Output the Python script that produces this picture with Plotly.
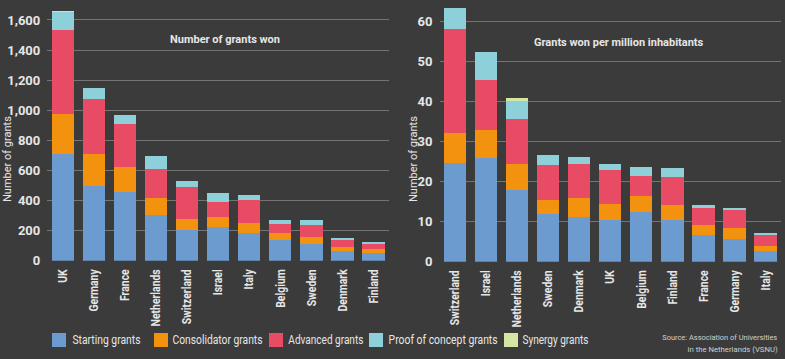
import json
import plotly.graph_objects as go

# ---------------- data ----------------
series_names = ["Starting grants", "Consolidator grants", "Advanced grants",
                "Proof of concept grants", "Synergy grants"]
series_colors = ["#6c9bd0", "#f3920f", "#e84b64", "#8dd0da", "#d5e5a3"]

countries_total = ["UK", "Germany", "France", "Netherlands", "Switzerland", "Israel",
                   "Italy", "Belgium", "Sweden", "Denmark", "Finland"]
total_starting = [707, 499, 459, 304, 204, 222, 182, 137, 113, 62, 49]
total_consolidator = [268, 210, 166, 115, 73, 66, 68, 49, 42, 31, 31]
total_advanced = [558, 366, 286, 190, 215, 104, 151, 60, 84, 49, 33]
total_poc = [120, 71, 57, 85, 38, 60, 33, 27, 29, 3, 13]
total_synergy = [4, 0, 0, 0, 0, 0, 0, 0, 0, 0, 0]

countries_capita = ["Switzerland", "Israel", "Netherlands", "Sweden", "Denmark", "UK",
                    "Belgium", "Finland", "France", "Germany", "Italy"]
capita_starting = [24.5, 25.9, 17.9, 11.8, 11.2, 10.4, 12.3, 10.4, 6.6, 5.7, 2.7]
capita_consolidator = [7.7, 6.9, 6.5, 3.6, 4.8, 4.1, 4.2, 3.8, 2.5, 2.7, 1.3]
capita_advanced = [25.9, 12.5, 11.1, 8.8, 8.4, 8.4, 4.9, 7.0, 4.4, 4.5, 2.6]
capita_poc = [5.1, 7.0, 4.8, 2.3, 1.6, 1.5, 2.3, 2.1, 0.6, 0.5, 0.5]
capita_synergy = [0, 0, 0.4, 0, 0, 0, 0, 0, 0, 0, 0]

left_ticks = [0, 200, 400, 600, 800, 1000, 1200, 1400, 1600]
right_ticks = [0, 10, 20, 30, 40, 50, 60]

title_left = "Number of grants won"
title_right = "Grants won per million inhabitants"
y_title = "Number of grants"
source_lines = ["Source: Association of Universities", "in the Netherlands (VSNU)"]

# ---------------- style ----------------
BG = "#3b3b3b"
GRID = "#747474"
TXT = "#e6e6e6"
FONT = "Roboto, Liberation Sans, sans-serif"
W, H = 785, 359
TICK_SQUEEZE = 0.8  # the reference uses a condensed typeface

fig = go.Figure()

left_vals = [total_starting, total_consolidator, total_advanced, total_poc, total_synergy]
right_vals = [capita_starting, capita_consolidator, capita_advanced, capita_poc, capita_synergy]

for name, color, vals in zip(series_names, series_colors, left_vals):
    fig.add_trace(go.Bar(x=countries_total, y=vals, name=name, marker_color=color,
                         marker_line_width=0, xaxis="x", yaxis="y", showlegend=False))
for name, color, vals in zip(series_names, series_colors, right_vals):
    fig.add_trace(go.Bar(x=countries_capita, y=vals, name=name, marker_color=color,
                         marker_line_width=0, xaxis="x2", yaxis="y2", showlegend=False))


def px_x(p):
    return p / W


def px_y(p):
    return (H - p) / H


xcommon = dict(tickangle=-90, showgrid=False, zeroline=False, showline=False,
               ticks="", automargin=False, ticklabelstandoff=5,
               tickfont=dict(family=FONT, size=13, color=TXT, weight="bold"))
ycommon = dict(showgrid=True, gridcolor=GRID, gridwidth=1, zeroline=False,
               showline=False, ticks="", automargin=False, ticklabelstandoff=6,
               tickfont=dict(family=FONT, size=13, color=TXT, weight="bold"))

fig.update_layout(
    width=W, height=H,
    paper_bgcolor=BG, plot_bgcolor=BG,
    margin=dict(l=0, r=0, t=0, b=0),
    barmode="stack", bargap=0.28,
    font=dict(family=FONT, color=TXT),
    xaxis=dict(domain=[px_x(47.3), px_x(389)], anchor="y", **xcommon),
    yaxis=dict(domain=[px_y(260.7), px_y(10.2)], anchor="x", range=[0, 1665],
               tickvals=left_ticks, tickformat=",d", **ycommon),
    xaxis2=dict(domain=[px_x(439.5), px_x(781)], anchor="y2", **xcommon),
    yaxis2=dict(domain=[px_y(261.7), px_y(2.95)], anchor="x2", range=[0, 64.5],
                tickvals=right_ticks, **ycommon),
)

annotations = []
widths = []  # target text widths (px) per annotation, None = natural

ann_common = dict(xref="paper", yref="paper", xanchor="center", yanchor="middle",
                  showarrow=False)
annotations += [
    dict(text="<b>" + title_left + "</b>", x=px_x(225), y=px_y(40),
         font=dict(family=FONT, size=11, color=TXT), **ann_common),
    dict(text="<b>" + title_right + "</b>", x=px_x(619), y=px_y(42),
         font=dict(family=FONT, size=11, color=TXT), **ann_common),
    dict(text=y_title, x=px_x(7), y=px_y(159), textangle=-90,
         font=dict(family=FONT, size=11, color=TXT), **ann_common),
    dict(text=y_title, x=px_x(413), y=px_y(159), textangle=-90,
         font=dict(family=FONT, size=11, color=TXT), **ann_common),
]
widths += [None, None, None, None]

src_right = 777
for line, ly, w in zip(source_lines, [337.5, 349.5], [115, 90]):
    annotations.append(dict(text=line, x=px_x(src_right - w / 2), y=px_y(ly),
                            font=dict(family=FONT, size=8, color="#d0d0d0"), **ann_common))
    widths.append(w)

# manual legend
legend_sq = [52, 154, 269, 369, 504]
legend_tx = [72, 172, 288, 388, 522]
legend_w = [68, 90, 75, 109, 66]
shapes = []
for sx, tx, tw, name, color in zip(legend_sq, legend_tx, legend_w, series_names, series_colors):
    shapes.append(dict(type="rect", xref="paper", yref="paper",
                       x0=px_x(sx), x1=px_x(sx + 14), y0=px_y(347), y1=px_y(333),
                       fillcolor=color, line_width=0))
    annotations.append(dict(text=name, x=px_x(tx + tw / 2), y=px_y(340),
                            font=dict(family=FONT, size=12, color=TXT), **ann_common))
    widths.append(tw)

fig.update_layout(annotations=annotations, shapes=shapes)

post = """
document.body.style.margin='0';
document.body.style.overflow='hidden';
var gd = document.getElementById('{plot_id}');
var targetW = %s;
var squeeze = %s;
function condense(){
  var ann = gd.querySelectorAll('.annotation-text');
  for (var i = 0; i < ann.length && i < targetW.length; i++) {
    if (targetW[i]) {
      ann[i].setAttribute('textLength', targetW[i]);
      ann[i].setAttribute('lengthAdjust', 'spacingAndGlyphs');
    }
  }
  var ticks = gd.querySelectorAll('g.xtick > text, g.x2tick > text');
  ticks.forEach(function(t){
    var o = t.getAttribute('data-orig');
    if (!o) { o = t.getComputedTextLength(); t.setAttribute('data-orig', o); }
    t.setAttribute('textLength', (parseFloat(o) * squeeze).toFixed(1));
    t.setAttribute('lengthAdjust', 'spacingAndGlyphs');
  });
}
condense();
setTimeout(condense, 30);
""" % (json.dumps(widths), json.dumps(TICK_SQUEEZE))

fig.write_html("out.html", config={"displayModeBar": False}, post_script=post)
